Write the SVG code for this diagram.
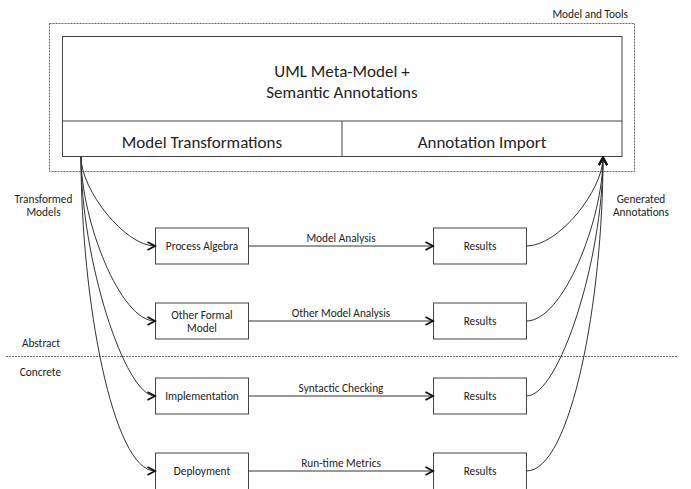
<svg xmlns="http://www.w3.org/2000/svg" width="691" height="489" viewBox="0 0 691 489">
<style>
.t{font-family:Carlito,Lato,"Liberation Sans",sans-serif;fill:#222;text-anchor:middle}
.big{font-size:17px}
.sm{font-size:11.3px}
.box{fill:#fff;stroke:#444;stroke-width:1}
.dash{fill:none;stroke:#666;stroke-width:1;stroke-dasharray:2,1}
.con{fill:none;stroke:#333;stroke-width:1}
</style>
<defs>
<marker id="arr" viewBox="-10 -6 12 12" refX="0" refY="0" markerWidth="12" markerHeight="12" markerUnits="userSpaceOnUse" orient="auto">
<path d="M-7.5,-4 L0,0 L-7.5,4" fill="none" stroke="#111" stroke-width="1.8"/>
</marker>
</defs>
<g id="model-and-tools">
<rect class="dash" x="49.5" y="23.5" width="585" height="148"/>
<text class="t sm" x="628" y="18" style="text-anchor:end">Model and Tools</text>
</g>
<g id="uml-meta-model">
<rect class="box" x="62.5" y="36.5" width="559.5" height="120"/>
<line x1="62.5" y1="121" x2="622" y2="121" stroke="#444"/>
<text class="t big" x="342" y="77">UML Meta-Model +</text>
<text class="t big" x="342" y="97.5">Semantic Annotations</text>
</g>
<g id="model-transformations">
<text class="t big" x="202" y="147.5">Model Transformations</text>
</g>
<g id="annotation-import">
<line x1="342" y1="121" x2="342" y2="156.5" stroke="#444"/>
<text class="t big" x="482" y="147.5">Annotation Import</text>
</g>
<g id="levels">
<line class="dash" x1="6" y1="356.5" x2="678" y2="356.5"/>
<text class="t sm" x="41" y="346.5">Abstract</text>
<text class="t sm" x="40.5" y="375.5">Concrete</text>
</g>
<g id="labels">
<text class="t sm" x="43.5" y="203">Transformed</text>
<text class="t sm" x="43.5" y="216">Models</text>
<text class="t sm" x="641" y="203">Generated</text>
<text class="t sm" x="641" y="216">Annotations</text>
</g>
<g id="process-algebra">
<rect class="box" x="155.5" y="228" width="93" height="36"/>
<text class="t sm" x="202" y="250">Process Algebra</text>
</g>
<g id="other-formal-model">
<rect class="box" x="155.5" y="303" width="93" height="36"/>
<text class="t sm" x="202" y="318.5">Other Formal</text>
<text class="t sm" x="202" y="332">Model</text>
</g>
<g id="implementation">
<rect class="box" x="155.5" y="378" width="93" height="36"/>
<text class="t sm" x="202" y="400">Implementation</text>
</g>
<g id="deployment">
<rect class="box" x="155.5" y="453" width="93" height="36.5"/>
<text class="t sm" x="202" y="475">Deployment</text>
</g>
<g id="results-1">
<rect class="box" x="433.5" y="228" width="93" height="36"/>
<text class="t sm" x="480" y="250">Results</text>
</g>
<g id="results-2">
<rect class="box" x="433.5" y="303" width="93" height="36"/>
<text class="t sm" x="480" y="325">Results</text>
</g>
<g id="results-3">
<rect class="box" x="433.5" y="378" width="93" height="36"/>
<text class="t sm" x="480" y="400">Results</text>
</g>
<g id="results-4">
<rect class="box" x="433.5" y="453" width="93" height="36.5"/>
<text class="t sm" x="480" y="475">Results</text>
</g>
<g id="connectors">
<path class="con" d="M81,157 C81,190 125,246 155,246" marker-end="url(#arr)"/>
<path class="con" d="M81,157 C81,220 120,321 155,321" marker-end="url(#arr)"/>
<path class="con" d="M81,157 C81,260 125,396 155,396" marker-end="url(#arr)"/>
<path class="con" d="M81,157 C81,300 113,471 155,471" marker-end="url(#arr)"/>
<path class="con" d="M248.5,246 H433" marker-end="url(#arr)"/>
<path class="con" d="M248.5,321 H433" marker-end="url(#arr)"/>
<path class="con" d="M248.5,396 H433" marker-end="url(#arr)"/>
<path class="con" d="M248.5,471 H433" marker-end="url(#arr)"/>
<text class="t sm" x="341" y="242">Model Analysis</text>
<text class="t sm" x="341" y="317">Other Model Analysis</text>
<text class="t sm" x="341" y="392">Syntactic Checking</text>
<text class="t sm" x="341" y="467">Run-time Metrics</text>
<path class="con" d="M526.5,246 C559,246 603,190 603,157.5" marker-end="url(#arr)"/>
<path class="con" d="M526.5,321 C563,321 603,220 603,157.5" marker-end="url(#arr)"/>
<path class="con" d="M526.5,396 C559,396 603,260 603,157.5" marker-end="url(#arr)"/>
<path class="con" d="M526.5,471 C571,471 603,300 603,157.5" marker-end="url(#arr)"/>
</g>
</svg>
